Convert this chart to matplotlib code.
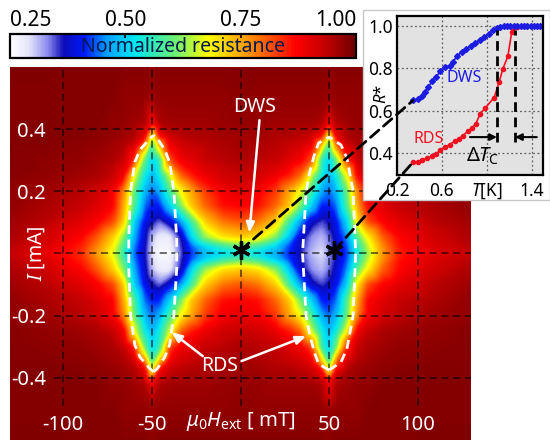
import numpy as np
import matplotlib
matplotlib.use("Agg")
import matplotlib.pyplot as plt
import matplotlib.tri as mtri
from matplotlib.cm import ScalarMappable
from matplotlib.colors import LinearSegmentedColormap, Normalize
from matplotlib.patches import ConnectionPatch, Rectangle

plt.rcParams['font.family'] = ['Noto Sans', 'DejaVu Sans']
plt.rcParams['mathtext.fontset'] = 'custom'
plt.rcParams['mathtext.rm'] = 'Noto Sans'
plt.rcParams['mathtext.it'] = 'Noto Sans:italic'
plt.rcParams['axes.unicode_minus'] = False

# map nodes
field_mt = [-130, -110, -90, -80, -72, -66, -60, -54, -50, -46, -40, -34, -28, -20, -10, 0,
            10, 20, 28, 34, 40, 46, 50, 54, 60, 66, 72, 80, 90, 110, 130]
current_ma = [0, .02, .05, .1, .15, .2, .25, .3, .35, .38, .42, .5, .6]

r_000 = [.93, .89, .84, .75, .67, .56, .44, .37, .29, .26, .26, .34, .42, .48, .51, .53,
         .51, .47, .41, .36, .31, .29, .33, .37, .42, .54, .63, .76, .85, .90, .93]
r_002 = [.94, .91, .85, .77, .69, .58, .45, .37, .30, .27, .27, .35, .43, .51, .57, .60,
         .57, .50, .42, .37, .32, .30, .33, .37, .43, .55, .65, .77, .86, .91, .94]
r_005 = [.95, .92, .87, .80, .72, .62, .47, .38, .31, .28, .28, .36, .50, .63, .70, .72,
         .70, .62, .48, .38, .33, .31, .34, .38, .45, .59, .69, .80, .87, .92, .95]
r_010 = [.96, .94, .90, .87, .82, .72, .50, .40, .37, .34, .39, .46, .57, .72, .79, .81,
         .79, .72, .57, .46, .38, .35, .37, .40, .50, .70, .82, .87, .90, .94, .96]
r_015 = [.97, .95, .93, .90, .87, .75, .58, .44, .41, .41, .50, .61, .72, .80, .86, .87,
         .86, .80, .72, .61, .50, .41, .41, .44, .58, .75, .87, .90, .93, .95, .97]
r_020 = [.97, .96, .94, .92, .88, .78, .60, .48, .44, .47, .58, .68, .75, .83, .88, .90,
         .88, .83, .75, .68, .58, .47, .44, .48, .60, .78, .88, .92, .94, .96, .97]
r_025 = [.98, .97, .96, .95, .93, .88, .68, .53, .48, .53, .66, .80, .85, .89, .92, .93,
         .92, .89, .85, .80, .66, .53, .48, .53, .68, .88, .93, .95, .96, .97, .98]
r_030 = [.98, .975, .97, .96, .95, .93, .84, .60, .50, .56, .82, .88, .90, .93, .94, .95,
         .94, .93, .90, .88, .82, .56, .50, .60, .84, .93, .95, .96, .97, .975, .98]
r_035 = [.98, .98, .975, .97, .96, .95, .92, .80, .58, .74, .89, .92, .93, .94, .95, .96,
         .95, .94, .93, .92, .89, .74, .58, .80, .92, .95, .96, .97, .975, .98, .98]
r_038 = [.98, .98, .98, .975, .97, .96, .95, .90, .68, .88, .93, .94, .95, .95, .96, .96,
         .96, .95, .95, .94, .93, .88, .68, .90, .95, .96, .97, .975, .98, .98, .98]
r_042 = [.98, .98, .98, .98, .97, .97, .96, .95, .88, .95, .96, .96, .96, .96, .965, .97,
         .965, .96, .96, .96, .96, .95, .88, .95, .96, .97, .97, .98, .98, .98, .98]
r_050 = [.98, .98, .98, .98, .98, .97, .97, .97, .96, .97, .97, .97, .97, .97, .97, .975,
         .97, .97, .97, .97, .97, .97, .96, .97, .97, .97, .98, .98, .98, .98, .98]
r_060 = [.985, .985, .98, .98, .98, .98, .98, .98, .975, .98, .98, .98, .98, .98, .98, .98,
         .98, .98, .98, .98, .98, .98, .975, .98, .98, .98, .98, .98, .98, .985, .985]

# dashed lenses, upper half only
rds_i_left = [0, .05, .2, .294, .333, .371, .38]
rds_left_outer = [-63, -63, -62, -59.6, -56.7, -51, -49]
rds_left_inner = [-36, -36, -37.6, -40, -42.7, -47, -49]
rds_i_right = [0, .2, .26, .316, .355, .375]
rds_right_inner = [35, 37, 39, 41.6, 44, 50]
rds_i_right2 = [0, .2, .307, .349, .375]
rds_right_outer = [65, 63.5, 60, 56.7, 50]

# inset curves
dws_t = [.342, .384, .42, .45, .48, .51, .55, .585, .63, .668, .70, .733, .778, .816, .858, .896,
         .935, .976, 1.015, 1.053, 1.09, 1.12, 1.15, 1.18, 1.21, 1.24, 1.27, 1.30, 1.33, 1.36, 1.39,
         1.42, 1.45, 1.47]
dws_r = [.648, .655, .667, .69, .711, .738, .761, .785, .804, .813, .832, .856, .879, .892, .903, .918,
         .934, .95, .961, .981, .99, .997, 1, 1, 1, 1, 1, 1, 1, 1, 1,
         1, 1, 1]
rds_t = [.342, .384, .42, .467, .51, .55, .585, .63, .668, .713, .748, .787, .828, .867, .902, .94,
         .985, 1.065, 1.11, 1.142, 1.187, 1.222, 1.237, 1.267, 1.34]
rds_r = [.356, .358, .366, .374, .385, .397, .413, .427, .44, .455, .466, .482, .502, .518, .538, .585,
         .612, .662, .735, .797, .856, .973, .989, .997, 1.0]

cbar_ticks = [.25, .50, .75, 1.00]
h_ticks = [-100, -50, 50, 100]
h_lines = [-100, -50, 0, 50, 100]
i_ticks = [-.4, -.2, 0, .2, .4]
i_labels = ['-0.4', '-0.2', '', '0.2', '0.4']

W, H = 550, 440


def px_axes(x0, y0, x1, y1):
    return fig.add_axes([x0 / W, 1 - y1 / H, (x1 - x0) / W, (y1 - y0) / H])


def blur(a, axis):
    # the source picture is soft, so soften the map a little too
    k = np.array([1, 4, 6, 4, 1]) / 16
    k = np.convolve(np.convolve(k, k), k)
    return np.apply_along_axis(lambda v: np.convolve(v, k, mode='same'), axis, a)


cmap = LinearSegmentedColormap.from_list('res', [
    (0, '#ffffff'), (.04 / .75, '#e4e4fa'), (.08 / .75, '#8c8cf0'), (.115 / .75, '#0c0cb8'),
    (.16 / .75, '#0018fa'), (.21 / .75, '#00a0ff'), (.27 / .75, '#00e8f0'), (.36 / .75, '#70f070'),
    (.43 / .75, '#ffff00'), (.52 / .75, '#ff9000'), (.62 / .75, '#ff0000'), (.68 / .75, '#c80000'),
    (.73 / .75, '#880000'), (1, '#6c0000')])
norm = Normalize(.25, 1)

fig = plt.figure(figsize=(W / 100, H / 100), dpi=100)

upper = np.array([r_000, r_002, r_005, r_010, r_015, r_020, r_025, r_030, r_035, r_038, r_042, r_050, r_060])
z = np.vstack([upper[:0:-1], upper])
cur = np.concatenate([-np.array(current_ma[:0:-1]), current_ma])
hh_grid, ii_grid = np.meshgrid(field_mt, cur)

ax = px_axes(10, 67, 471, 440)
tri = mtri.Triangulation(hh_grid.ravel(), ii_grid.ravel())
interp = mtri.LinearTriInterpolator(tri, z.ravel())
fine = np.meshgrid(np.linspace(-130, 130, 461), np.linspace(-.6, .6, 373))
z_fine = np.pad(interp(*fine).filled(.98), 8, mode='edge')
z_fine = blur(blur(z_fine, 0), 1)[8:-8, 8:-8]
ax.imshow(z_fine, extent=(-130, 130, -.6, .6), origin='lower', aspect='auto', cmap=cmap, norm=norm,
          interpolation='nearest')
ax.set_xlim(-130, 130)
ax.set_ylim(-.6, .6)
for s in ax.spines.values():
    s.set_visible(False)
ax.set_xticks(h_ticks)
ax.set_yticks(i_ticks)
ax.set_yticklabels(i_labels)
ax.tick_params(axis='both', length=0, labelcolor='white', labelsize=14.5)
ax.tick_params(axis='y', pad=-26)
ax.tick_params(axis='x', pad=-18)

grid = dict(color='k', alpha=.6, lw=1.3, linestyles=(0, (4, 2.5)))
ax.vlines(h_lines, -.49, .59, **grid)
ax.hlines(i_ticks, -105, 130, **grid)

for ii, hh in [(rds_i_left, rds_left_outer), (rds_i_left, rds_left_inner),
               (rds_i_right, rds_right_inner), (rds_i_right2, rds_right_outer)]:
    ii = np.array(ii)
    hh = np.array(hh)
    ax.plot(np.concatenate([hh[::-1], hh[1:]]), np.concatenate([-ii[::-1], ii[1:]]),
            color='white', lw=2, ls=(0, (3.2, 2)))

ax.plot([0, 53], [.01, .01], ls='none', marker=(6, 2, 0), ms=13, mew=2.4, color='k', zorder=5)

ax.text(8, .47, 'DWS', color='white', fontsize=14, ha='center', va='center')
ax.text(-12, -.362, 'RDS', color='white', fontsize=14, ha='center', va='center')
arrow = dict(arrowstyle='-|>,head_width=.25,head_length=.6', color='white', lw=1.8, shrinkA=0, shrinkB=0)
ax.annotate('', xy=(5, .067), xytext=(10.7, .429), arrowprops=arrow)
ax.annotate('', xy=(-38.8, -.253), xytext=(-21.3, -.33), arrowprops=arrow)
ax.annotate('', xy=(37, -.266), xytext=(.6, -.346), arrowprops=arrow)

ax.text(0, -.54, r'$\mu_0H_{\mathrm{ext}}$ [ mT]', color='white', fontsize=14.5, ha='center', va='center')
ax.text(-115, 0, r'$\mathit{I}$ [mA]', color='white', fontsize=14, rotation=90, ha='center', va='center')

# colorbar
cax = px_axes(10, 34, 356, 58)
cb = fig.colorbar(ScalarMappable(norm=norm, cmap=cmap), cax=cax, orientation='horizontal')
cb.outline.set_linewidth(1.6)
cax.xaxis.set_ticks_position('top')
cb.set_ticks(cbar_ticks)
cb.set_ticklabels(['%.2f' % t for t in cbar_ticks])
cax.tick_params(axis='x', direction='in', length=3, width=1.2, labelsize=15, pad=2)
labs = cax.get_xticklabels()
labs[0].set_ha('left')
labs[-1].set_ha('right')
cax.text(.5, .47, 'Normalized resistance', transform=cax.transAxes, color='#041a4c', fontsize=14,
         ha='center', va='center')

# white panel behind the inset
fig.add_artist(Rectangle((363 / W, 1 - 200 / H), (W - 363) / W, 190 / H, transform=fig.transFigure,
                         facecolor='white', edgecolor='#c8c8c8', lw=1, zorder=1))

ins = px_axes(397, 16, 543, 175)
ins.set_zorder(2)
ins.set_facecolor('#e2e2e2')
ins.set_xlim(.2, 1.5)
ins.set_ylim(.296, 1.047)
ins.set_xticks([.2, .6, 1.0, 1.4])
ins.set_xticklabels(['0.2', '0.6', r'$\mathit{T}$[K]', '1.4'])
ins.set_yticks([.4, .6, .8, 1.0])
ins.set_yticklabels(['0.4', '0.6', '0.8', '1.0'])
ins.tick_params(length=0, labelsize=12.5, pad=3)
ins.tick_params(axis='x', pad=5)
ins.grid(True, color='#606060', ls=(0, (1.5, 2)), lw=.9)
ins.set_axisbelow(True)
for s in ins.spines.values():
    s.set_linewidth(1.6)
ins.text(-.1, .68, r'$\mathit{R}$' + '*', fontsize=12, rotation=90, ha='center', va='center',
         transform=ins.get_yaxis_transform())

ins.plot(rds_t, rds_r, color='#f01020', lw=1.2, marker='o', ms=3)
ins.plot(dws_t, dws_r, color='#1c1ce0', lw=1.2, marker='D', ms=3)
ins.text(.64, .753, 'DWS', color='#1c1ce0', fontsize=11.5, va='center')
ins.text(.35, .466, 'RDS', color='#f01020', fontsize=11.5, va='center')
ins.vlines([1.09, 1.25], .45, .98, color='k', lw=2, linestyles=(0, (3.5, 2)))
ins.annotate('', xy=(1.09, .475), xytext=(.85, .475),
             arrowprops=dict(arrowstyle='-|>', color='k', lw=1.5, shrinkA=0, shrinkB=0))
ins.annotate('', xy=(1.25, .475), xytext=(1.445, .475),
             arrowprops=dict(arrowstyle='-|>', color='k', lw=1.5, shrinkA=0, shrinkB=0))
ins.text(.96, .385, r'$\Delta\mathit{T}_{\mathrm{C}}$', fontsize=14.5, ha='center', va='center')

for a, b in [((0, .01), (dws_t[0], dws_r[0])), ((53, .01), (rds_t[0], rds_r[0]))]:
    con = ConnectionPatch(xyA=a, coordsA=ax.transData, xyB=b, coordsB=ins.transData,
                          color='k', lw=2, ls=(0, (4, 2.2)), zorder=3)
    fig.add_artist(con)

fig.savefig('out.png', dpi=100)
